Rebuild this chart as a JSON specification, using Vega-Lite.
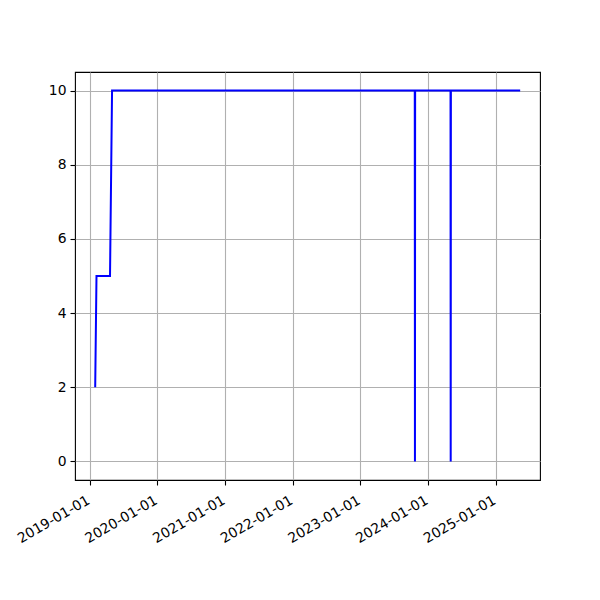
{
  "$schema": "https://vega.github.io/schema/vega-lite/v6.json",
  "autosize": {"type": "none"},
  "width": 465,
  "height": 408,
  "padding": {"left": 75, "top": 72, "right": 60, "bottom": 120},
  "background": "white",
  "config": {
    "view": {"stroke": "black", "strokeWidth": 1.1},
    "axis": {
      "labelFont": "DejaVu Sans",
      "labelFontSize": 13.9,
      "labelColor": "black",
      "tickColor": "black",
      "tickSize": 5,
      "tickWidth": 1.1,
      "domain": false,
      "grid": true,
      "gridColor": "#b0b0b0",
      "gridWidth": 1.1,
      "labelPadding": 4,
      "title": null
    }
  },
  "data": {
    "values": [
      {"date": "2019-01-30", "value": 2},
      {"date": "2019-02-06", "value": 5},
      {"date": "2019-04-20", "value": 5},
      {"date": "2019-05-01", "value": 10},
      {"date": "2023-10-21", "value": 10},
      {"date": "2023-10-22", "value": 0},
      {"date": "2023-10-23", "value": 10},
      {"date": "2024-05-01", "value": 10},
      {"date": "2024-05-02", "value": 0},
      {"date": "2024-05-03", "value": 10},
      {"date": "2025-05-12", "value": 10}
    ]
  },
  "mark": {"type": "line", "color": "blue", "strokeWidth": 2, "clip": true},
  "encoding": {
    "x": {
      "field": "date",
      "type": "temporal",
      "scale": {"type": "utc", "domain": [{"year": 2018, "month": 10, "date": 13, "utc": true}, {"year": 2025, "month": 8, "date": 27, "utc": true}]},
      "axis": {
        "values": [
          {"year": 2019, "month": 1, "date": 1, "utc": true},
          {"year": 2020, "month": 1, "date": 1, "utc": true},
          {"year": 2021, "month": 1, "date": 1, "utc": true},
          {"year": 2022, "month": 1, "date": 1, "utc": true},
          {"year": 2023, "month": 1, "date": 1, "utc": true},
          {"year": 2024, "month": 1, "date": 1, "utc": true},
          {"year": 2025, "month": 1, "date": 1, "utc": true}
        ],
        "labelExpr": "utcFormat(datum.value, '%Y-%m-%d')",
        "labelAngle": -30,
        "labelAlign": "right",
        "labelBaseline": "top",
        "labelOverlap": false,
        "labelPadding": 8,
        "labelOffset": -5
      }
    },
    "y": {
      "field": "value",
      "type": "quantitative",
      "scale": {"domain": [-0.5, 10.5], "nice": false, "zero": false},
      "axis": {"values": [0, 2, 4, 6, 8, 10]}
    }
  }
}
